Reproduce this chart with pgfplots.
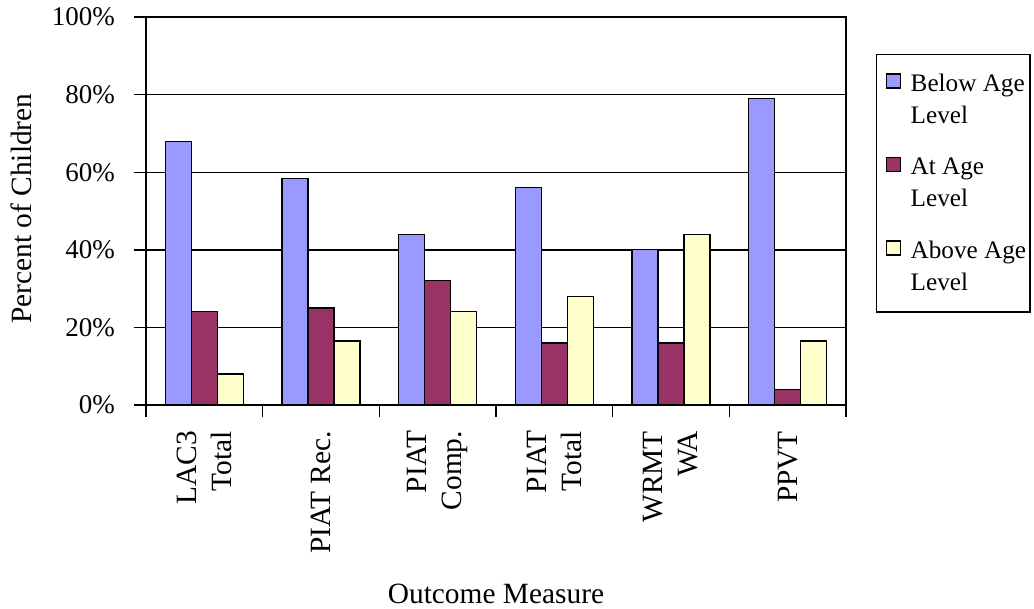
\documentclass[border=0pt]{standalone}
\usepackage{pgfplots}
\pgfplotsset{compat=1.18}
\usepackage{fontspec}
\setmainfont{Liberation Serif}
\definecolor{belowc}{HTML}{9999FF}
\definecolor{atc}{HTML}{993366}
\definecolor{abovec}{HTML}{FFFFCC}
\newcommand{\chartfont}{\fontsize{13bp}{16bp}\selectfont}
\newcommand{\legendfont}{\fontsize{12.6bp}{16bp}\selectfont}
\newcommand{\titlefont}{\fontsize{14.7bp}{17.5bp}\selectfont}
\begin{document}
\begin{tikzpicture}[font=\chartfont]
\useasboundingbox (-73bp,-102bp) rectangle (444bp,202.5bp);
\begin{axis}[
  at={(0,0)}, anchor=south west,
  width=350bp, height=194bp, scale only axis,
  ybar=0pt, bar width=13bp,
  xmin=-0.5, xmax=5.5, ymin=0, ymax=100,
  axis line style={line width=0.9bp},
  ymajorgrids, grid style={black, line width=0.7bp},
  ytick={0,20,40,60,80,100},
  yticklabels={0\%,20\%,40\%,60\%,80\%,100\%},
  tick pos=left, ytick style={black, line width=0.7bp},
  tick align=outside, major tick length=6bp,
  xtick={0,1,2,3,4,5},
  xticklabels={{LAC3\\Total},{PIAT Rec.},{PIAT\\Comp.},{PIAT\\Total},{WRMT\\WA},{PPVT}},
  xtick style={draw=none},
  extra x ticks={-0.5,0.5,1.5,2.5,3.5,4.5,5.5},
  extra x tick labels={},
  extra x tick style={grid=none, tick pos=left, xtick style={draw=black, line width=0.7bp}, major tick length=6bp},
  xticklabel style={rotate=90, anchor=east, align=right, font=\titlefont},
  xticklabel shift=3.5bp,
  yticklabel style={font=\fontsize{13.5bp}{16bp}\selectfont, xshift=-6bp},
  /pgf/number format/assume math mode=true,
  xlabel={Outcome Measure},
  ylabel={Percent of Children},
  xlabel style={at={(axis description cs:0.5,-0.487)}, anchor=center, font=\titlefont},
  ylabel style={at={(axis description cs:-0.1786,0.506)}, anchor=center, font=\titlefont},
  legend style={at={(1,1)}, anchor=north west, xshift=15bp, yshift=-18.5bp,
    draw=black, line width=0.7bp, font=\legendfont,
    cells={anchor=west, align=left}, nodes={inner xsep=0pt}, row sep=11.75bp,
    inner xsep=2bp, inner ysep=7.5bp},
  mybar/.style={draw=black, line width=0.6bp, fill=#1,
    legend image code/.code={\path[draw=none, fill=none] (-3bp,6bp) -- (12bp,6bp);
      \draw[draw=black, line width=0.6bp, fill=#1] (0bp,6bp) rectangle (7bp,13bp);}},
]
\addplot[mybar=belowc] coordinates {(0,68) (1,58.4) (2,44) (3,56) (4,40) (5,79)};
\addlegendentry{Below Age\\Level}
\addplot[mybar=atc] coordinates {(0,24) (1,25) (2,32) (3,16) (4,16) (5,4)};
\addlegendentry{At Age\\Level}
\addplot[mybar=abovec] coordinates {(0,8) (1,16.5) (2,24) (3,28) (4,44) (5,16.5)};
\addlegendentry{Above Age\\Level}
\end{axis}
\end{tikzpicture}
\end{document}
